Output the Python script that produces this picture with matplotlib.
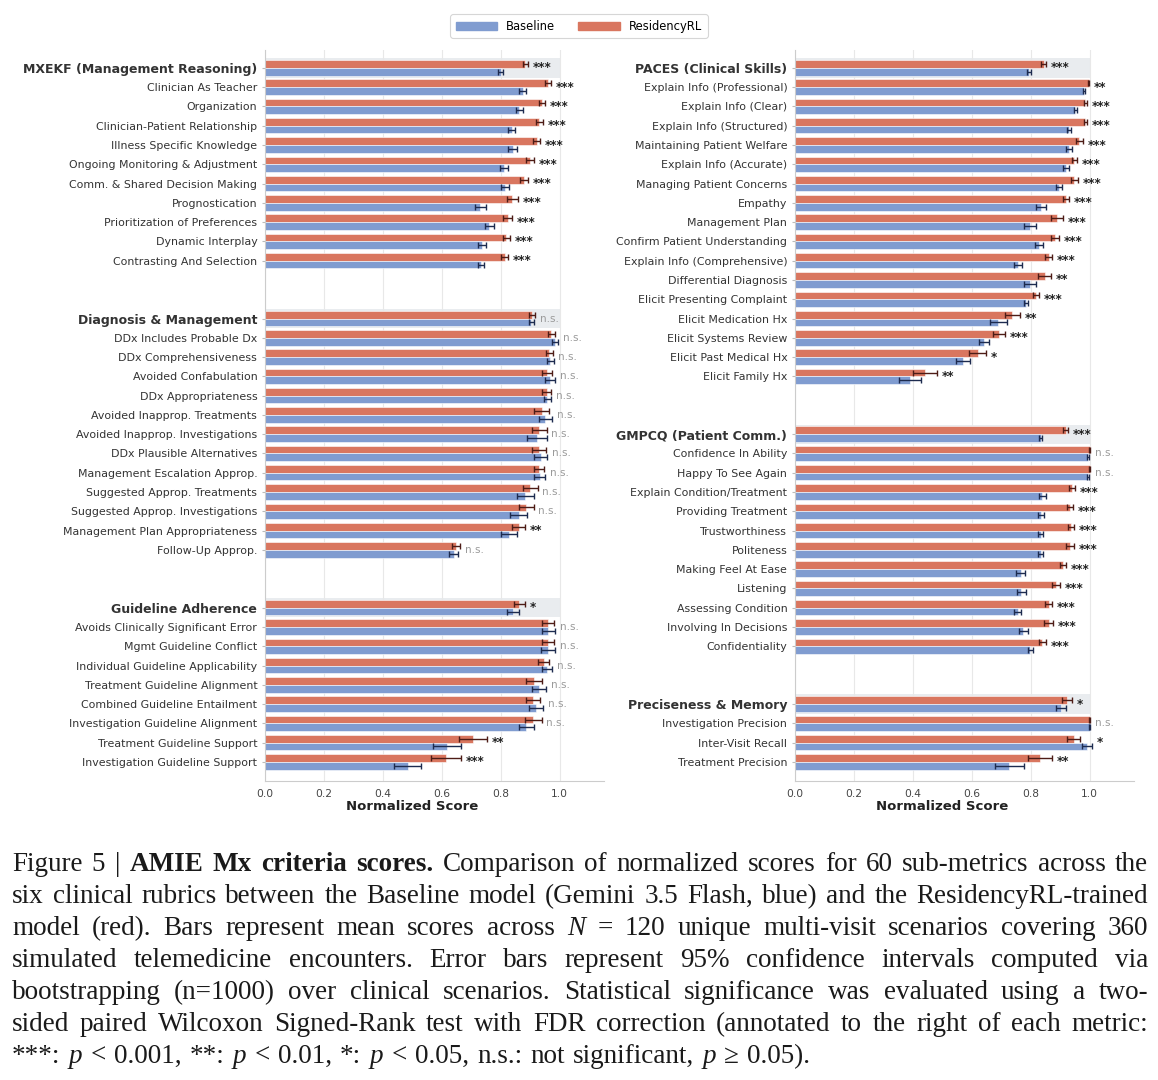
import numpy as np
import matplotlib.pyplot as plt
from matplotlib.patches import Patch

# colours
RED = '#d9765f'
BLUE = '#809cd0'
RED_ERR = '#4d1c16'
BLUE_ERR = '#1d2b4f'
HEADER_BG = '#e9ecef'

# ---- left column ----
mxekf_labels = ["MXEKF (Management Reasoning)", "Clinician As Teacher", "Organization",
                "Clinician-Patient Relationship", "Illness Specific Knowledge",
                "Ongoing Monitoring & Adjustment", "Comm. & Shared Decision Making",
                "Prognostication", "Prioritization of Preferences", "Dynamic Interplay",
                "Contrasting And Selection"]
mxekf_rl = [0.883, 0.961, 0.940, 0.931, 0.922, 0.900, 0.879, 0.839, 0.823, 0.818, 0.813]
mxekf_rl_ci = [0.008, 0.010, 0.010, 0.012, 0.012, 0.013, 0.013, 0.018, 0.015, 0.012, 0.012]
mxekf_base = [0.800, 0.875, 0.863, 0.837, 0.840, 0.810, 0.815, 0.731, 0.761, 0.736, 0.733]
mxekf_base_ci = [0.008, 0.012, 0.012, 0.012, 0.014, 0.013, 0.013, 0.020, 0.015, 0.015, 0.010]
mxekf_sig = ["***"] * 11

dm_labels = ["Diagnosis & Management", "DDx Includes Probable Dx", "DDx Comprehensiveness",
             "Avoided Confabulation", "DDx Appropriateness", "Avoided Inapprop. Treatments",
             "Avoided Inapprop. Investigations", "DDx Plausible Alternatives",
             "Management Escalation Approp.", "Suggested Approp. Treatments",
             "Suggested Approp. Investigations", "Management Plan Appropriateness",
             "Follow-Up Approp."]
dm_rl = [0.906, 0.971, 0.964, 0.956, 0.956, 0.939, 0.930, 0.930, 0.930, 0.900, 0.887, 0.861, 0.649]
dm_rl_ci = [0.010, 0.012, 0.012, 0.018, 0.015, 0.025, 0.025, 0.024, 0.016, 0.025, 0.024, 0.022, 0.013]
dm_base = [0.904, 0.984, 0.967, 0.967, 0.958, 0.951, 0.922, 0.935, 0.932, 0.883, 0.861, 0.828, 0.640]
dm_base_ci = [0.010, 0.010, 0.012, 0.018, 0.012, 0.022, 0.033, 0.023, 0.018, 0.029, 0.029, 0.027, 0.016]
dm_sig = ["n.s."] * 11 + ["**", "n.s."]

ga_labels = ["Guideline Adherence", "Avoids Clinically Significant Error",
             "Mgmt Guideline Conflict", "Individual Guideline Applicability",
             "Treatment Guideline Alignment", "Combined Guideline Entailment",
             "Investigation Guideline Alignment", "Treatment Guideline Support",
             "Investigation Guideline Support"]
ga_rl = [0.863, 0.961, 0.961, 0.945, 0.913, 0.910, 0.910, 0.705, 0.614]
ga_rl_ci = [0.020, 0.020, 0.020, 0.020, 0.027, 0.023, 0.028, 0.048, 0.051]
ga_base = [0.841, 0.961, 0.961, 0.956, 0.930, 0.919, 0.887, 0.618, 0.484]
ga_base_ci = [0.020, 0.023, 0.024, 0.018, 0.023, 0.024, 0.026, 0.048, 0.046]
ga_sig = ["*"] + ["n.s."] * 6 + ["**", "***"]

# ---- right column ----
paces_labels = ["PACES (Clinical Skills)", "Explain Info (Professional)", "Explain Info (Clear)",
                "Explain Info (Structured)", "Maintaining Patient Welfare",
                "Explain Info (Accurate)", "Managing Patient Concerns", "Empathy",
                "Management Plan", "Confirm Patient Understanding",
                "Explain Info (Comprehensive)", "Differential Diagnosis",
                "Elicit Presenting Complaint", "Elicit Medication Hx",
                "Elicit Systems Review", "Elicit Past Medical Hx", "Elicit Family Hx"]
paces_rl = [0.843, 0.996, 0.985, 0.985, 0.965, 0.948, 0.948, 0.920, 0.889, 0.883, 0.860,
            0.848, 0.817, 0.737, 0.692, 0.620, 0.441]
paces_rl_ci = [0.007, 0.003, 0.004, 0.004, 0.012, 0.010, 0.012, 0.010, 0.020, 0.013, 0.013,
               0.022, 0.010, 0.026, 0.020, 0.029, 0.042]
paces_base = [0.793, 0.981, 0.951, 0.929, 0.930, 0.918, 0.895, 0.836, 0.798, 0.828, 0.756,
              0.798, 0.783, 0.690, 0.641, 0.570, 0.389]
paces_base_ci = [0.007, 0.004, 0.006, 0.007, 0.010, 0.010, 0.010, 0.017, 0.021, 0.013, 0.014,
                 0.021, 0.007, 0.028, 0.017, 0.023, 0.037]
paces_sig = ["***", "**", "***", "***", "***", "***", "***", "***", "***", "***", "***",
             "**", "***", "**", "***", "*", "**"]

gmpcq_labels = ["GMPCQ (Patient Comm.)", "Confidence In Ability", "Happy To See Again",
                "Explain Condition/Treatment", "Providing Treatment", "Trustworthiness",
                "Politeness", "Making Feel At Ease", "Listening", "Assessing Condition",
                "Involving In Decisions", "Confidentiality"]
gmpcq_rl = [0.918, 1.0, 1.0, 0.940, 0.933, 0.935, 0.933, 0.910, 0.885, 0.860, 0.860, 0.839]
gmpcq_rl_ci = [0.008, 0.002, 0.002, 0.010, 0.010, 0.010, 0.012, 0.010, 0.014, 0.013, 0.015, 0.012]
gmpcq_base = [0.833, 0.995, 0.995, 0.839, 0.836, 0.833, 0.833, 0.765, 0.768, 0.756, 0.775, 0.798]
gmpcq_base_ci = [0.006, 0.004, 0.004, 0.012, 0.010, 0.008, 0.008, 0.015, 0.014, 0.012, 0.015, 0.008]
gmpcq_sig = ["***", "n.s.", "n.s."] + ["***"] * 9

pm_labels = ["Preciseness & Memory", "Investigation Precision", "Inter-Visit Recall",
             "Treatment Precision"]
pm_rl = [0.923, 1.0, 0.945, 0.831]
pm_rl_ci = [0.017, 0.001, 0.022, 0.042]
pm_base = [0.902, 1.0, 0.989, 0.727]
pm_base_ci = [0.016, 0.001, 0.017, 0.049]
pm_sig = ["*", "n.s.", "*", "**"]

left_groups = [
    (mxekf_labels, mxekf_base, mxekf_base_ci, mxekf_rl, mxekf_rl_ci, mxekf_sig),
    (dm_labels, dm_base, dm_base_ci, dm_rl, dm_rl_ci, dm_sig),
    (ga_labels, ga_base, ga_base_ci, ga_rl, ga_rl_ci, ga_sig),
]
right_groups = [
    (paces_labels, paces_base, paces_base_ci, paces_rl, paces_rl_ci, paces_sig),
    (gmpcq_labels, gmpcq_base, gmpcq_base_ci, gmpcq_rl, gmpcq_rl_ci, gmpcq_sig),
    (pm_labels, pm_base, pm_base_ci, pm_rl, pm_rl_ci, pm_sig),
]

caption_lines = [
    "Figure 5 | B:AMIE B:Mx B:criteria B:scores. Comparison of normalized scores for 60 sub-metrics across the",
    "six clinical rubrics between the Baseline model (Gemini 3.5 Flash, blue) and the ResidencyRL-trained",
    "model (red). Bars represent mean scores across I:N = 120 unique multi-visit scenarios covering 360",
    "simulated telemedicine encounters. Error bars represent 95% confidence intervals computed via",
    "bootstrapping (n=1000) over clinical scenarios. Statistical significance was evaluated using a two-",
    "sided paired Wilcoxon Signed-Rank test with FDR correction (annotated to the right of each metric:",
    "***: I:p < 0.001, **: I:p < 0.01, *: I:p < 0.05, n.s.: not significant, I:p \u2265 0.05).",
]

plt.rcParams['font.family'] = 'DejaVu Sans'

W, H = 1158, 1080
fig = plt.figure(figsize=(W / 100, H / 100), dpi=100)
fig.patch.set_facecolor('white')

ax_left = fig.add_axes([265 / W, 1 - 781 / H, 339 / W, 731 / H])
ax_right = fig.add_axes([795 / W, 1 - 781 / H, 339 / W, 731 / H])


def draw_column(ax, groups):
    tick_pos, tick_lab, header_idx = [], [], []
    start = 0
    for labels, base, base_ci, rl, rl_ci, sig in groups:
        y = start + np.arange(len(labels))
        # shaded band behind the aggregate row
        ax.fill_betweenx([y[0] - 0.5, y[0] + 0.5], 0, 1.0, color=HEADER_BG, lw=0, zorder=0)
        ax.barh(y - 0.2, rl, height=0.4, color=RED, edgecolor='white', linewidth=0.4, zorder=2)
        ax.barh(y + 0.2, base, height=0.4, color=BLUE, edgecolor='white', linewidth=0.4, zorder=2)
        ax.errorbar(rl, y - 0.2, xerr=rl_ci, fmt='none', ecolor=RED_ERR, elinewidth=1,
                    capsize=2.5, capthick=1, zorder=3)
        ax.errorbar(base, y + 0.2, xerr=base_ci, fmt='none', ecolor=BLUE_ERR, elinewidth=1,
                    capsize=2.5, capthick=1, zorder=3)
        for yi, r, rc, b, bc, s in zip(y, rl, rl_ci, base, base_ci, sig):
            xs = max(r + rc, b + bc) + 0.016
            if s == "n.s.":
                ax.text(xs, yi, s, fontsize=7.5, color='#9a9a9a', va='center', ha='left')
            else:
                ax.text(xs, yi, s, fontsize=8.5, fontweight='bold', color='#222222',
                        va='center', ha='left')
        header_idx.append(len(tick_pos))
        tick_pos += list(y)
        tick_lab += labels
        start += len(labels) + 2

    ax.set_yticks(tick_pos, tick_lab)
    for i, t in enumerate(ax.get_yticklabels()):
        t.set_color('#333333')
        if i in header_idx:
            t.set_fontweight('bold')
            t.set_fontsize(9)
        else:
            t.set_fontsize(7.9)
    ax.set_ylim(start - 2 - 0.01, -0.93)
    ax.set_xlim(0, 1.15)
    ax.set_xticks(np.arange(0, 1.01, 0.2))
    ax.set_xticklabels([f"{v:.1f}" for v in np.arange(0, 1.01, 0.2)])
    ax.tick_params(axis='x', length=0, labelsize=7.7, labelcolor='#444444', pad=6)
    ax.tick_params(axis='y', length=2.5, color='#bbbbbb', pad=3)
    ax.set_xlabel("Normalized Score", fontsize=9.5, fontweight='bold', color='#222222')
    # label is centred under 0-1, not under the whole axis
    ax.xaxis.set_label_coords(0.5 / 1.15, -0.026)
    ax.xaxis.grid(True, color='#e8e8e8', linewidth=0.8)
    ax.set_axisbelow(True)
    for side in ['top', 'right']:
        ax.spines[side].set_visible(False)
    for side in ['left', 'bottom']:
        ax.spines[side].set_color('#cccccc')
        ax.spines[side].set_linewidth(0.8)


draw_column(ax_left, left_groups)
draw_column(ax_right, right_groups)

legend = fig.legend(handles=[Patch(color=BLUE), Patch(color=RED)],
                    labels=["Baseline", "ResidencyRL"], loc='upper center',
                    bbox_to_anchor=(0.5, 0.992), ncol=2, fontsize=8.3, handlelength=3.6,
                    handleheight=0.7, columnspacing=2.0, frameon=True, edgecolor='#cccccc',
                    fancybox=True, borderpad=0.45)
legend.get_frame().set_linewidth(0.8)

# caption, justified line by line
renderer = fig.canvas.get_renderer()
CAP_FS = 19.5
X0, X1 = 12, 1148
for li, line in enumerate(caption_lines):
    y_base = 1 - (871 + 32 * li) / H
    texts = []
    for word in line.split(' '):
        kw = dict(family='Liberation Serif', fontsize=CAP_FS, color='#1a1a1a', va='baseline', ha='left')
        if word.startswith('B:'):
            word = word[2:]
            kw['fontweight'] = 'bold'
        elif word.startswith('I:'):
            word = word[2:]
            kw['fontstyle'] = 'italic'
        texts.append(fig.text(0, y_base, word, **kw))
    widths = [t.get_window_extent(renderer).width for t in texts]
    if li < len(caption_lines) - 1:
        gap = (X1 - X0 - sum(widths)) / (len(texts) - 1)
    else:
        gap = CAP_FS * 100 / 72 * 0.3
    x = X0
    for t, w in zip(texts, widths):
        t.set_x(x / W)
        x += w + gap

fig.savefig('out.png', dpi=100, facecolor='white')
